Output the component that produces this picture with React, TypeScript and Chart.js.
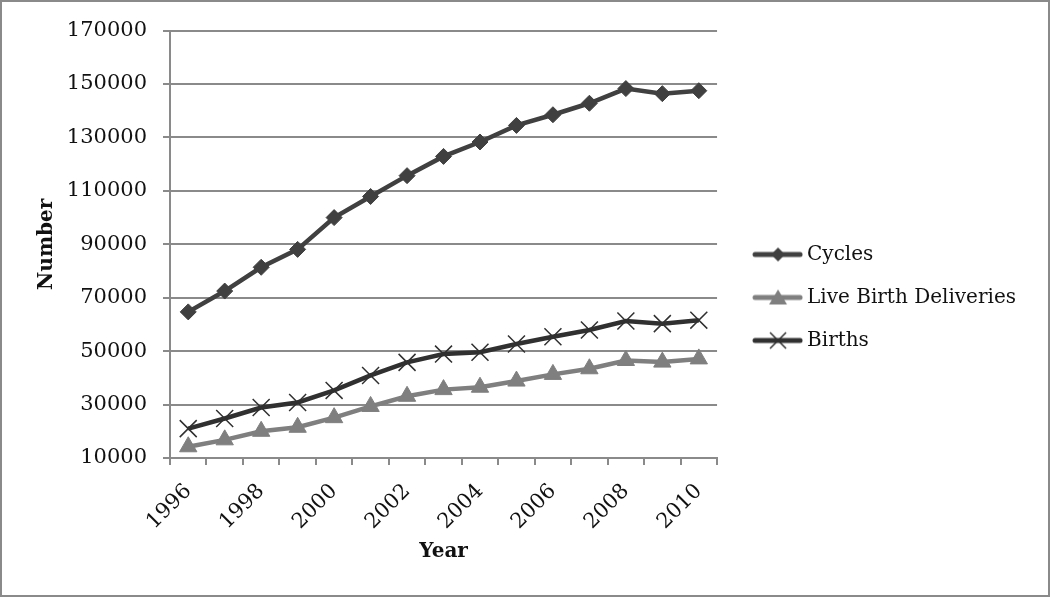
import React, { useEffect, useRef } from "react";
import { Chart, registerables } from "chart.js";

Chart.register(...registerables);

const years = ["1996", "1997", "1998", "1999", "2000", "2001", "2002", "2003", "2004", "2005", "2006", "2007", "2008", "2009", "2010"];
const cycles = [64700, 72500, 81400, 88100, 100000, 107900, 115700, 122900, 128300, 134500, 138500, 142800, 148300, 146400, 147500];
const liveBirthDeliveries = [14200, 16800, 20000, 21500, 25100, 29300, 33100, 35600, 36500, 38800, 41300, 43400, 46500, 45900, 47100];
const births = [21000, 24800, 28900, 30800, 35300, 40900, 45800, 48900, 49600, 52700, 55400, 57900, 61300, 60300, 61600];
const seriesNames = ["Cycles", "Live Birth Deliveries", "Births"];
const yMin = 10000;
const yMax = 170000;
const yStep = 20000;

const FONT = "'DejaVu Serif', serif";
const GRID = "#8a8a8a";

function makeIcon(kind: string, color: string): HTMLCanvasElement {
  const c = document.createElement("canvas");
  c.width = 69;
  c.height = 22;
  const ctx = c.getContext("2d")!;
  ctx.strokeStyle = color;
  ctx.lineWidth = 5;
  ctx.lineCap = "round";
  ctx.beginPath();
  ctx.moveTo(21, 11);
  ctx.lineTo(66, 11);
  ctx.stroke();
  const cx = 44, cy = 11;
  ctx.fillStyle = color;
  if (kind === "diamond") {
    ctx.beginPath();
    ctx.moveTo(cx, cy - 7);
    ctx.lineTo(cx + 7, cy);
    ctx.lineTo(cx, cy + 7);
    ctx.lineTo(cx - 7, cy);
    ctx.closePath();
    ctx.fill();
  } else if (kind === "triangle") {
    ctx.beginPath();
    ctx.moveTo(cx, cy - 8);
    ctx.lineTo(cx + 9, cy + 7);
    ctx.lineTo(cx - 9, cy + 7);
    ctx.closePath();
    ctx.fill();
  } else {
    ctx.lineWidth = 1.5;
    ctx.lineCap = "butt";
    ctx.beginPath();
    ctx.moveTo(cx - 8, cy - 8);
    ctx.lineTo(cx + 8, cy + 8);
    ctx.moveTo(cx + 8, cy - 8);
    ctx.lineTo(cx - 8, cy + 8);
    ctx.stroke();
  }
  return c;
}

export default function App() {
  const ref = useRef<HTMLCanvasElement>(null);
  useEffect(() => {
    document.body.style.margin = "0";
    const colors = ["#404040", "#7f7f7f", "#303030"];
    const icons = [makeIcon("diamond", colors[0]), makeIcon("triangle", colors[1]), makeIcon("x", colors[2])];
    const chart = new Chart(ref.current!, {
      type: "line",
      data: {
        labels: years,
        datasets: [
          {
            label: seriesNames[0],
            data: cycles,
            borderColor: colors[0],
            backgroundColor: colors[0],
            borderWidth: 4.5,
            pointStyle: "rectRot",
            pointRadius: 8,
            pointBorderWidth: 1,
            pointBackgroundColor: colors[0],
            pointBorderColor: colors[0],
            tension: 0,
          },
          {
            label: seriesNames[1],
            data: liveBirthDeliveries,
            borderColor: colors[1],
            backgroundColor: colors[1],
            borderWidth: 4.5,
            pointStyle: "triangle",
            pointRadius: 10,
            pointBorderWidth: 1,
            pointBackgroundColor: colors[1],
            pointBorderColor: colors[1],
            tension: 0,
          },
          {
            label: seriesNames[2],
            data: births,
            borderColor: colors[2],
            backgroundColor: colors[2],
            borderWidth: 4.5,
            pointStyle: "crossRot",
            pointRadius: 12,
            pointBorderWidth: 1.5,
            pointBorderColor: colors[2],
            tension: 0,
          },
        ],
      },
      options: {
        animation: false,
        responsive: false,
        layout: { padding: { left: 33, top: 21, right: 22, bottom: 23 } },
        plugins: {
          tooltip: { enabled: false },
          legend: {
            position: "right",
            maxWidth: 400,
            labels: {
              usePointStyle: true,
              pointStyleWidth: 57,
              padding: 23,
              color: "#111",
              font: { family: FONT, size: 20 },
              generateLabels: (ch: any) =>
                ch.data.datasets.map((ds: any, i: number) => ({
                  text: ds.label,
                  pointStyle: icons[i],
                  datasetIndex: i,
                  hidden: false,
                  lineWidth: 0,
                  fillStyle: colors[i],
                  strokeStyle: colors[i],
                  fontColor: "#111",
                })),
            },
          },
        },
        scales: {
          x: {
            offset: true,
            afterFit: (s: any) => {
              s.height = 114;
            },
            grid: {
              display: true,
              offset: true,
              drawOnChartArea: false,
              drawTicks: true,
              tickLength: 7,
              color: GRID,
              lineWidth: 2,
            },
            border: { display: true, color: GRID, width: 2 },
            ticks: {
              autoSkip: false,
              minRotation: 45,
              maxRotation: 45,
              padding: 14,
              color: "#111",
              font: { family: FONT, size: 21 },
              callback: (_v: any, i: number) => (i % 2 === 0 ? years[i] : ""),
            },
            title: {
              display: true,
              text: "Year",
              color: "#111",
              font: { family: FONT, size: 20, weight: "bold" },
              padding: { top: 6, bottom: 8 },
            },
          },
          y: {
            min: yMin,
            max: yMax,
            afterFit: (s: any) => {
              s.width = 135;
            },
            grid: {
              color: GRID,
              lineWidth: 2,
              drawTicks: true,
              tickLength: 7,
            },
            border: { display: true, color: GRID, width: 2 },
            ticks: {
              stepSize: yStep,
              padding: 16,
              color: "#111",
              font: { family: FONT, size: 21 },
              callback: (v: any) => String(v),
            },
            title: {
              display: true,
              text: "Number",
              color: "#111",
              font: { family: FONT, size: 20, weight: "bold" },
              padding: { top: 0, bottom: 12 },
            },
          },
        },
      },
    });
    return () => chart.destroy();
  }, []);
  return (
    <div
      style={{
        position: "absolute",
        left: 0,
        top: 0,
        width: 1050,
        height: 597,
        boxSizing: "border-box",
        border: "2px solid #8a8a8a",
        background: "#fff",
      }}
    >
      <canvas ref={ref} width={1046} height={593} style={{ display: "block" }} />
    </div>
  );
}
